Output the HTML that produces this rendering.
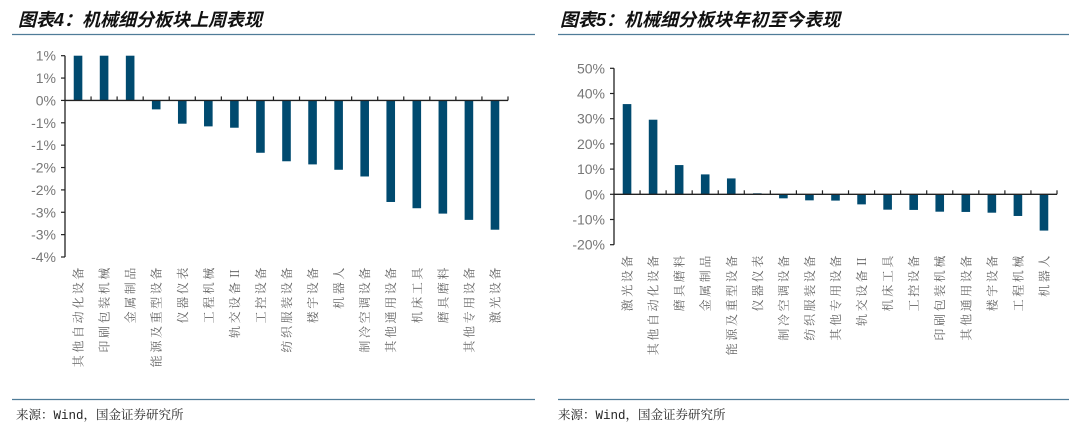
<!DOCTYPE html>
<html><head><meta charset="utf-8">
<style>
html,body{margin:0;padding:0;background:#fff;}
svg{display:block;}
.title{font-family:"Liberation Sans","Noto Sans CJK SC",sans-serif;font-size:18px;font-weight:bold;font-style:italic;fill:#111;}
.tick{font-family:"Liberation Sans",sans-serif;font-size:14px;fill:#777;}
.cat{font-family:"Liberation Serif","Noto Serif CJK SC",serif;font-size:12px;fill:#666;letter-spacing:2.6px;}
.src{font-family:"Liberation Mono","Noto Serif CJK SC",monospace;font-size:12.5px;fill:#222;}
</style></head>
<body>
<svg id="s" width="1080" height="433" viewBox="0 0 1080 433" xmlns="http://www.w3.org/2000/svg">
<text class="title" x="18" y="26">图表4：机械细分板块上周表现</text>
<line x1="12" y1="34.5" x2="535" y2="34.5" stroke="#4f7c98" stroke-width="1.2"/>
<text class="title" x="560" y="26">图表5：机械细分板块年初至今表现</text>
<line x1="558" y1="34.5" x2="1069" y2="34.5" stroke="#4f7c98" stroke-width="1.2"/>
<line x1="12" y1="399.5" x2="535" y2="399.5" stroke="#4f7c98" stroke-width="1.2"/>
<line x1="558" y1="399.5" x2="1069" y2="399.5" stroke="#4f7c98" stroke-width="1.2"/>
<text class="src" x="16" y="419">来源：Wind，国金证券研究所</text>
<text class="src" x="558" y="419">来源：Wind，国金证券研究所</text>
<g id="left"></g>
<g id="right"></g>
</svg>
<script>
const leftCats=["其他自动化设备","印刷包装机械","金属制品","能源及重型设备","仪器仪表","工程机械","轨交设备Ⅱ","工控设备","纺织服装设备","楼宇设备","机器人","制冷空调设备","其他通用设备","机床工具","磨具磨料","其他专用设备","激光设备"];
const leftVals=[1.0,1.0,1.0,-0.20,-0.52,-0.58,-0.61,-1.17,-1.36,-1.43,-1.55,-1.70,-2.27,-2.41,-2.53,-2.67,-2.89];
const leftTicks=[1,0.5,0,-0.5,-1,-1.5,-2,-2.5,-3,-3.5];
const leftTickLabels=["1%","1%","0%","-1%","-1%","-2%","-2%","-3%","-3%","-4%"];
const rightCats=["激光设备","其他自动化设备","磨具磨料","金属制品","能源及重型设备","仪器仪表","制冷空调设备","纺织服装设备","其他专用设备","轨交设备Ⅱ","机床工具","工控设备","印刷包装机械","其他通用设备","楼宇设备","工程机械","机器人"];
const rightVals=[35.8,29.6,11.6,7.9,6.3,0.4,-1.6,-2.4,-2.5,-4.0,-6.1,-6.2,-6.9,-7.0,-7.3,-8.6,-14.4];
const rightTicks=[50,40,30,20,10,0,-10,-20];
const rightTickLabels=["50%","40%","30%","20%","10%","0%","-10%","-20%"];

const NS="http://www.w3.org/2000/svg";
function mk(parent,tag,attrs){const e=document.createElementNS(NS,tag);for(const k in attrs)e.setAttribute(k,attrs[k]);parent.appendChild(e);return e;}

function draw(g,cfg,cats,vals,ticks,labels,prefix){
  const y=v=>cfg.y0+(v-cfg.vmax)/(cfg.vmin-cfg.vmax)*(cfg.y1-cfg.y0);
  const bw=(cfg.x1-cfg.x0)/cats.length;
  const x=i=>cfg.x0+bw*(i+0.5);
  let ax=mk(g,"line",{x1:cfg.x0,y1:y(cfg.vmax),x2:cfg.x0,y2:y(cfg.vmin),stroke:"#222","stroke-width":1.3});
  
  
  ticks.forEach((t,i)=>{
    const tl=mk(g,"line",{x1:cfg.x0-4,y1:y(t),x2:cfg.x0,y2:y(t),stroke:"#222","stroke-width":1.2});
    
    
    const tx=mk(g,"text",{x:cfg.x0-9,y:y(t)+5,"text-anchor":"end",class:"tick"});
    tx.textContent=labels[i];
    
    
  });
  vals.forEach((v,i)=>{
    const top=Math.min(y(v),y(0)),h=Math.abs(y(v)-y(0));
    const r=mk(g,"rect",{x:x(i)-4.3,y:top,width:8.6,height:Math.max(h,0.8),fill:"#004a6f"});
    
    
    const tx=mk(g,"text",{class:"cat","text-anchor":"end",transform:`translate(${x(i)+4.5},${cfg.ly}) rotate(-90)`});
    tx.textContent=cats[i];
    
    
  });
  const xa=mk(g,"line",{x1:cfg.x0,y1:y(0),x2:cfg.x1,y2:y(0),stroke:"#222","stroke-width":1.3});
  
  
  for(let i=1;i<=cats.length;i++){
    const tl=mk(g,"line",{x1:cfg.x0+bw*i,y1:y(0)-4,x2:cfg.x0+bw*i,y2:y(0),stroke:"#222","stroke-width":1.2});
    
    
  }
}
draw(document.getElementById('left'),{x0:65,x1:508,y0:55.7,y1:257,vmax:1,vmin:-3.5,ly:265},leftCats,leftVals,leftTicks,leftTickLabels,'left');
draw(document.getElementById('right'),{x0:614,x1:1057,y0:68.3,y1:244.7,vmax:50,vmin:-20,ly:253},rightCats,rightVals,rightTicks,rightTickLabels,'right');
</script>
</body></html>
